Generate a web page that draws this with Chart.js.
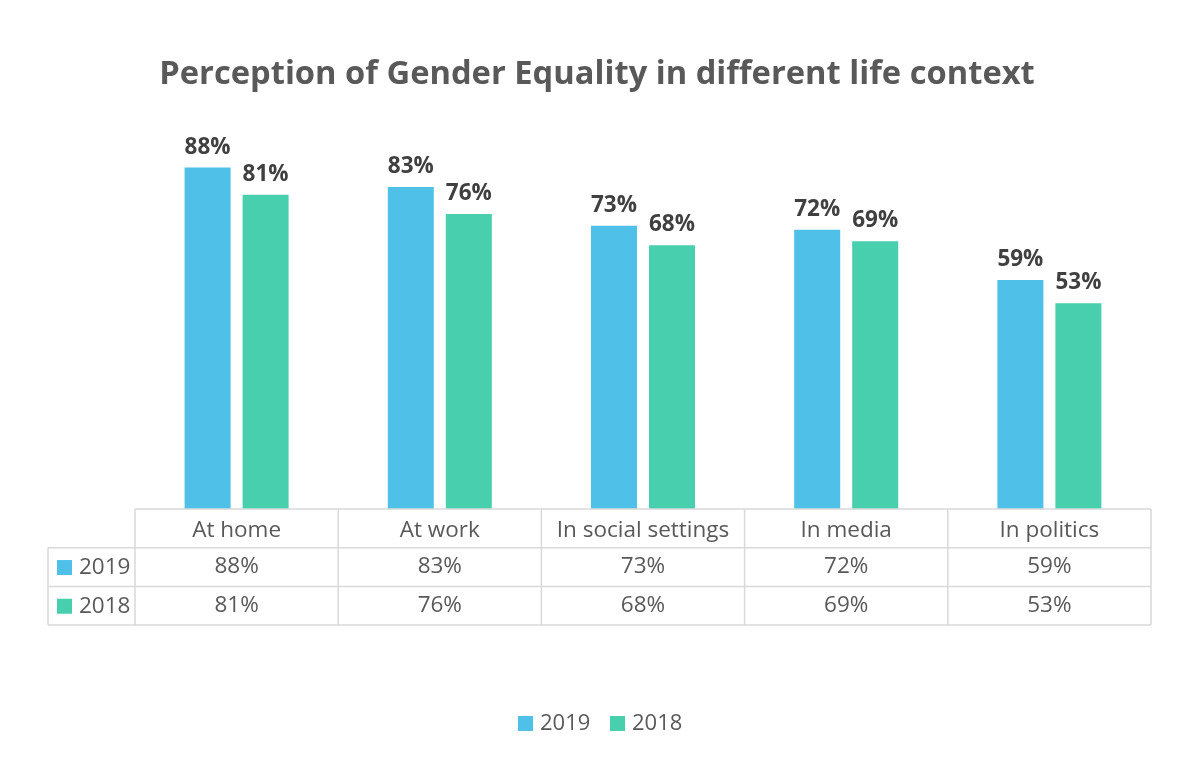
<!DOCTYPE html>
<html>
<head>
<meta charset="utf-8">
<script src="https://cdn.jsdelivr.net/npm/chart.js@4"></script>
<style>
html,body{margin:0;padding:0;background:#fff;}
#wrap{width:1200px;height:763px;}
</style>
</head>
<body>
<div id="wrap"><canvas id="c" width="1200" height="763"></canvas></div>
<script>
const titleText = "Perception of Gender Equality in different life context";
const categories = ["At home", "At work", "In social settings", "In media", "In politics"];
const seriesNames = ["2019", "2018"];
const values2019 = [88, 83, 73, 72, 59];
const values2018 = [81, 76, 68, 69, 53];
const colors = ["#4FC1E9", "#48CFAD"];

const FONT = "'Open Sans', 'Noto Sans', sans-serif";
const GRID = "#d9d9d9";
const TXT = "#595959";

const tablePlugin = {
  id: 'tablePlugin',
  afterDraw(chart) {
    const ctx = chart.ctx;
    const x = chart.scales.x;
    const area = chart.chartArea;
    const n = categories.length;
    const step = (area.right - area.left) / n;
    const top = area.bottom;
    const rowH = 38.7;
    const leftCol = 48;
    const datasets = [values2019, values2018];

    // title
    ctx.save();
    ctx.fillStyle = TXT;
    ctx.font = "bold 32.7px " + FONT;
    ctx.textAlign = "center";
    ctx.textBaseline = "middle";
    ctx.fillText(titleText, 597, 75);
    ctx.restore();

    // data labels
    ctx.save();
    ctx.font = "bold 22.5px " + FONT;
    ctx.fillStyle = "#404040";
    ctx.textAlign = "center";
    ctx.textBaseline = "alphabetic";
    chart.data.datasets.forEach((ds, di) => {
      const meta = chart.getDatasetMeta(di);
      meta.data.forEach((bar, i) => {
        ctx.fillText(ds.data[i] + "%", bar.x, bar.y - 14);
      });
    });
    ctx.restore();

    // table grid
    ctx.save();
    ctx.strokeStyle = GRID;
    ctx.lineWidth = 1.5;
    ctx.beginPath();
    ctx.moveTo(area.left, top); ctx.lineTo(area.right, top);
    for (let r = 1; r <= 3; r++) {
      const y = top + rowH * r;
      ctx.moveTo(leftCol, y); ctx.lineTo(area.right, y);
    }
    for (let i = 0; i <= n; i++) {
      const xx = area.left + step * i;
      ctx.moveTo(xx, top); ctx.lineTo(xx, top + rowH * 3);
    }
    ctx.moveTo(leftCol, top + rowH); ctx.lineTo(leftCol, top + rowH * 3);
    ctx.stroke();
    ctx.restore();

    // table text
    ctx.save();
    ctx.fillStyle = TXT;
    ctx.font = "22.5px " + FONT;
    ctx.textAlign = "center";
    ctx.textBaseline = "middle";
    categories.forEach((c, i) => {
      const cx = x.getPixelForValue(i);
      ctx.fillText(c, cx, top + rowH * 0.5 + 2);
      datasets.forEach((d, di) => {
        ctx.fillText(d[i] + "%", cx, top + rowH * (1.5 + di));
      });
    });
    // row headers
    ctx.textAlign = "left";
    seriesNames.forEach((s, di) => {
      const cy = top + rowH * (1.5 + di);
      ctx.fillStyle = colors[di];
      ctx.fillRect(57, cy - 7, 15, 15);
      ctx.fillStyle = TXT;
      ctx.fillText(s, 79, cy + 1);
    });
    ctx.restore();

    // bottom legend
    ctx.save();
    ctx.font = "22px " + FONT;
    ctx.textBaseline = "middle";
    ctx.textAlign = "left";
    const ly = 723;
    const lx = [518, 610];
    seriesNames.forEach((s, di) => {
      ctx.fillStyle = colors[di];
      ctx.fillRect(lx[di], ly - 7, 15, 15);
      ctx.fillStyle = TXT;
      ctx.fillText(s, lx[di] + 22, ly + 1);
    });
    ctx.restore();
  }
};

new Chart(document.getElementById('c'), {
  type: 'bar',
  data: {
    labels: categories,
    datasets: [
      { label: seriesNames[0], data: values2019, backgroundColor: colors[0] },
      { label: seriesNames[1], data: values2018, backgroundColor: colors[1] }
    ]
  },
  options: {
    responsive: false,
    animation: false,
    devicePixelRatio: 1,
    categoryPercentage: 0.571,
    barPercentage: 0.793,
    layout: { padding: { left: 135, right: 49, top: 121, bottom: 254 } },
    plugins: { legend: { display: false }, title: { display: false }, tooltip: { enabled: false } },
    scales: {
      x: { display: false },
      y: { display: false, min: 0, max: 100 }
    }
  },
  plugins: [tablePlugin]
});
</script>
</body>
</html>
